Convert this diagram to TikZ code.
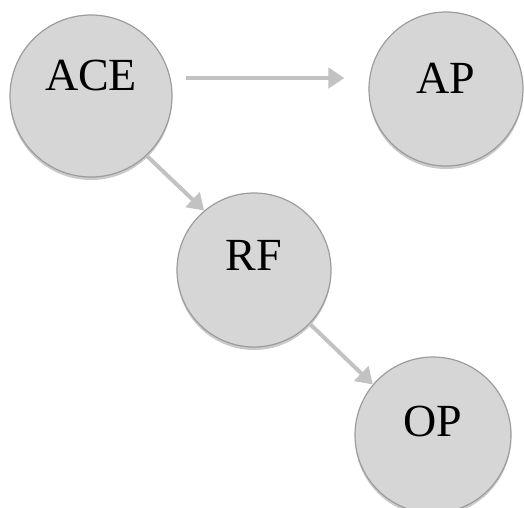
\documentclass[tikz,border=0pt]{standalone}
\usepackage{fontspec}
\setmainfont{Liberation Serif}
\usetikzlibrary{arrows,arrows.meta,positioning,shapes,shadows}
\usepackage{xcolor}

\definecolor{bubblefill}{HTML}{D6D6D6}
\definecolor{bubbleedge}{HTML}{9C9C9C}
\definecolor{linkgray}{HTML}{C2C2C2}

\begin{document}
\begin{tikzpicture}[x=1pt, y=-1pt,
    bubble/.style={
    circle,
    inner sep=0pt,
    draw=bubbleedge,
    line width=1.2pt,
    fill=bubblefill,
    text height=31pt,
    text depth=28pt,
    font=\fontsize{46}{50}\selectfont,
    drop shadow={shadow xshift=0pt, shadow yshift=-3pt, opacity=0.35, fill=black!60}
},
    link/.style={
    -{Triangle[width=20pt,length=16pt]},
    draw=linkgray,
    line width=4pt
}]

    \useasboundingbox (0,0) rectangle (524,507);



    \node (ace) [bubble, minimum size=162pt, text depth=42pt, shift={(91, 96)}]
    {
        ACE
    };

    \node (ap) [bubble, minimum size=154pt, text depth=22pt, shift={(446, 89)}]
    {
        AP
    };





    \node (rf) [bubble, minimum size=154pt, text depth=30pt, shift={(254, 270)}]
    {
        RF
    };

    \node (op) [bubble, minimum size=156pt, text depth=28pt, shift={(433, 435)}]
    {
        OP
    };


    \draw[link, shorten <=13pt, shorten >=24pt] ([yshift=18pt]ace.east) to ([yshift=11pt]ap.west);
    \draw[link] (ace.-47) to (rf.130);
    \draw[link] (rf.-44) to (op.140);


\end{tikzpicture}
\end{document}
